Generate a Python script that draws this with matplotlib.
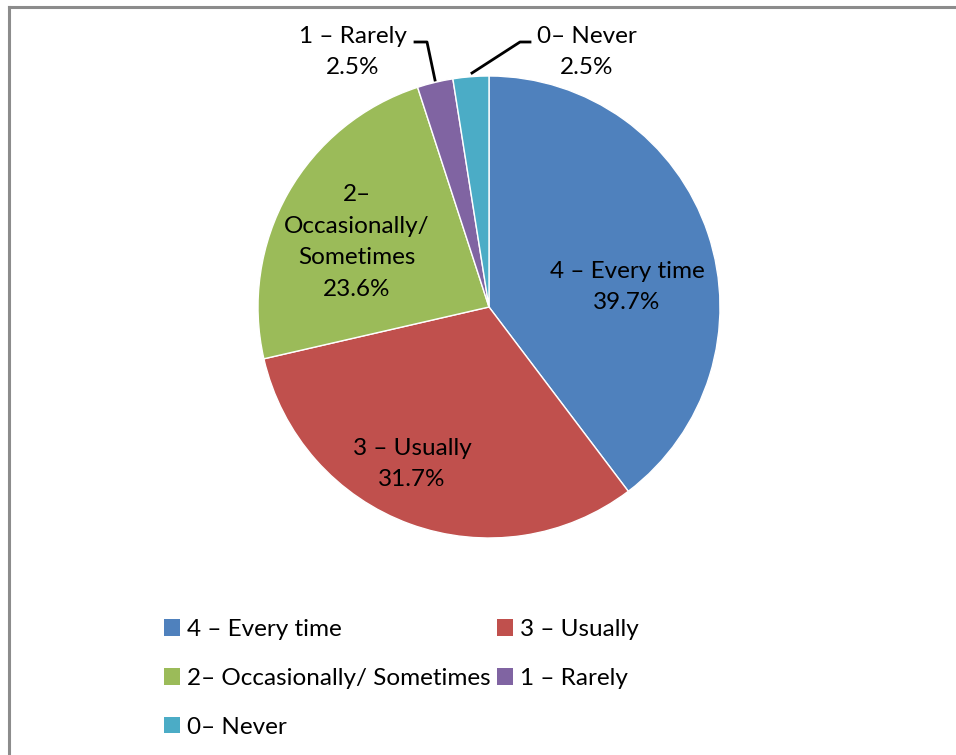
import matplotlib
matplotlib.use("Agg")
import matplotlib.pyplot as plt
from matplotlib.patches import Patch
from matplotlib.lines import Line2D

plt.rcParams['font.family'] = ['Lato', 'DejaVu Sans']

categories = ["4 – Every time", "3 – Usually", "2– Occasionally/ Sometimes", "1 – Rarely", "0– Never"]
values = [39.7, 31.7, 23.6, 2.5, 2.5]
colors = ["#4F81BD", "#C0504D", "#9BBB59", "#8064A2", "#4BACC6"]
slice_labels = ["4 – Every time\n39.7%", "3 – Usually\n31.7%", "2–\nOccasionally/\nSometimes\n23.6%",
                "1 – Rarely\n2.5%", "0– Never\n2.5%"]

W, H = 956, 755
fig = plt.figure(figsize=(W / 100, H / 100), dpi=100)
ax = fig.add_axes([0, 0, 1, 1])
ax.set_xlim(0, W)
ax.set_ylim(0, H)
ax.set_aspect('equal')
ax.axis('off')

cx, cy, r = 489, H - 307, 231
wedges, _ = ax.pie(values, colors=colors, startangle=90, counterclock=False,
                   center=(cx, cy), radius=r, frame=True,
                   wedgeprops=dict(edgecolor='white', linewidth=1.0))
ax.set_xlim(0, W)
ax.set_ylim(0, H)
ax.axis('off')

fs = 17.5
# label positions (pixel coords, top-origin)
label_pos = [(627, 287), (412, 464), (357, 242), (353, 52), (587, 52)]
for txt, (x, y) in zip(slice_labels, label_pos):
    ax.text(x, H - y, txt, ha='center', va='center', fontsize=fs, color='#000000',
            linespacing=1.62)

# leader lines
ax.add_line(Line2D([415, 427, 435], [H - 42, H - 42, H - 80], color='black', lw=2.0))
ax.add_line(Line2D([472, 520, 530], [H - 73, H - 42, H - 42], color='black', lw=2.0))

# frame lines (top and left)
ax.add_line(Line2D([9, W], [H - 7, H - 7], color='#8c8c8c', lw=2.2))
ax.add_line(Line2D([9, 9], [H - 7, 0], color='#8c8c8c', lw=2.2))

# legend
handles = [Patch(facecolor=c, edgecolor='none', label=l) for c, l in zip(colors, categories)]
order = [0, 2, 4, 1, 3]
leg = ax.legend([handles[i] for i in order], [categories[i] for i in order],
                ncol=2, loc='upper left', bbox_to_anchor=(164 / W, 1 - 619 / H),
                bbox_transform=fig.transFigure, frameon=False, fontsize=fs,
                handlelength=0.65, handleheight=0.65, handletextpad=0.3,
                labelspacing=1.15, columnspacing=0.25, borderaxespad=0, borderpad=0)

fig.savefig("out.png", dpi=100, facecolor='white')
